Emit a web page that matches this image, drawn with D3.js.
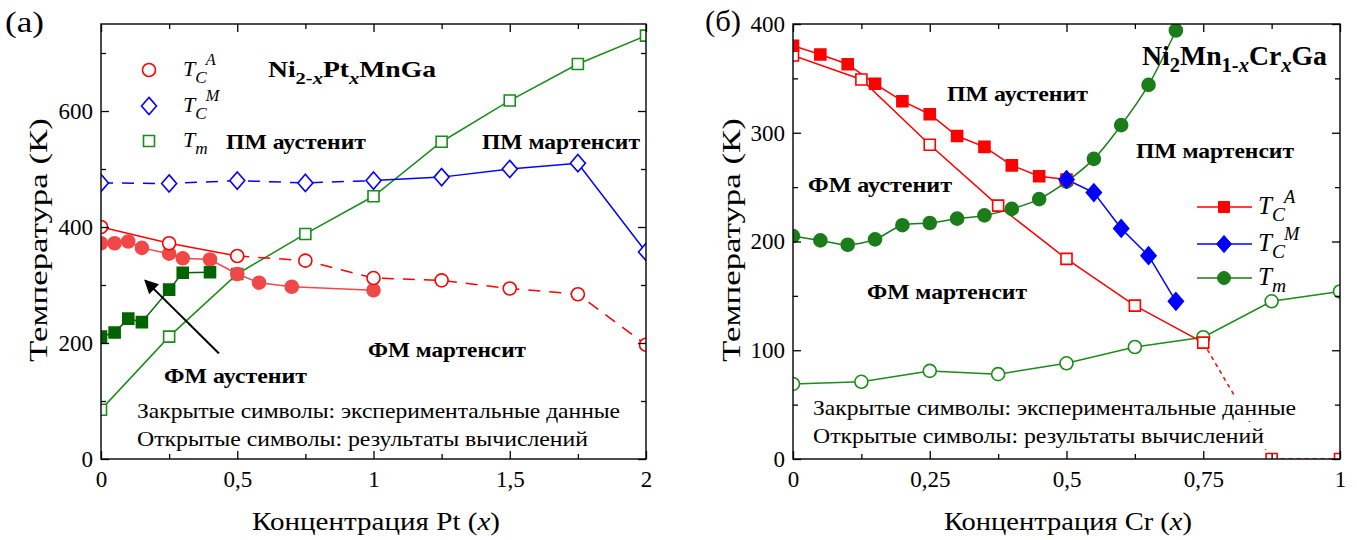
<!DOCTYPE html>
<html>
<head>
<meta charset="utf-8">
<script src="https://cdn.jsdelivr.net/npm/d3@7"></script>
<style>
  body { margin: 0; background: #fff; }
  text { font-family: "Liberation Serif", "Times New Roman", serif; fill: #000; }
</style>
</head>
<body>
<div id="chart"></div>
<script>
// ---- panel (a): Ni2-xPtxMnGa ----
const ptCalcX   = [0, 0.25, 0.5, 0.75, 1, 1.25, 1.5, 1.75, 2];
const ptTcaCalc = [400, 372, 350, 342, 312, 308, 294, 284, 197];
const ptTcmCalc = [476, 475, 480, 476, 480, 486, 500, 510, 357];
const ptTmCalc  = [85, 211, 319, 388, 453, 547, 618, 681, 730];
const ptTcaExpX = [0, 0.05, 0.1, 0.15, 0.25, 0.3, 0.4, 0.5, 0.58, 0.7, 1];
const ptTcaExp  = [372, 372, 375, 364, 354, 346, 344, 319, 304, 297, 291];
const ptTmExpX  = [0, 0.05, 0.1, 0.15, 0.25, 0.3, 0.4];
const ptTmExp   = [211, 218, 242, 236, 292, 321, 322];
const ptXTicks  = [0, 0.5, 1, 1.5, 2];
const ptXMinor  = [0.25, 0.75, 1.25, 1.75];
const ptYTicks  = [0, 200, 400, 600];
const ptYMinor  = [100, 300, 500, 700];

// ---- panel (б): Ni2Mn1-xCrxGa ----
const crCalcX   = [0, 0.125, 0.25, 0.375, 0.5, 0.625, 0.75, 0.875, 1];
const crTcaCalc = [371, 349, 289, 233, 184, 141, 107, 0, 0];
const crTmCalc  = [69, 71, 81, 78, 88, 103, 112, 145, 154];
const crTcaExpX = [0, 0.05, 0.1, 0.15, 0.2, 0.25, 0.3, 0.35, 0.4, 0.45, 0.5];
const crTcaExp  = [380, 372, 363, 345, 329, 317, 297, 287, 270, 260, 257];
const crTcmExpX = [0.5, 0.55, 0.6, 0.65, 0.7];
const crTcmExp  = [257, 245, 212, 187, 145];
const crTmExpX  = [0, 0.05, 0.1, 0.15, 0.2, 0.25, 0.3, 0.35, 0.4, 0.45, 0.5, 0.55, 0.6, 0.65, 0.7];
const crTmExp   = [205, 201, 197, 202, 215, 217, 221, 224, 230, 239, 255, 276, 307, 344, 394];
const crXTicks  = [0, 0.25, 0.5, 0.75, 1];
const crXMinor  = [0.125, 0.375, 0.625, 0.875];
const crYTicks  = [0, 100, 200, 300, 400];
const crYMinor  = [50, 150, 250, 350];

const notes = ["Закрытые символы: экспериментальные данные", "Открытые символы: результаты вычислений"];

const RED = "#ff0000", RED_EXP = "#f04848", BLUE = "#0000ff";
const GREEN = "#1a8c1a", GREEN_DK = "#006400", GREEN_EXP = "#1a7d1a";

const svg = d3.select("#chart").append("svg")
    .attr("width", 1357).attr("height", 540);

const fmt = d => String(d).replace(".", ",");
const pairs = (xs, ys) => xs.map((d, i) => [d, ys[i]]);

function shapePath(shape, s) {
    if (shape === "circle") return d3.symbol(d3.symbolCircle, Math.PI * s * s)();
    if (shape === "square") return `M${-s},${-s}H${s}V${s}H${-s}Z`;
    return `M0,${-s * 1.15}L${s},0L0,${s * 1.15}L${-s},0Z`;
}

function makePanel(cfg, id) {
    let p = {};
    p.x = d3.scaleLinear().domain(cfg.xDomain).range([cfg.left, cfg.right]);
    p.y = d3.scaleLinear().domain(cfg.yDomain).range([cfg.bottom, cfg.top]);
    p.g = svg.append("g");

    svg.append("clipPath").attr("id", id)
        .append("rect")
        .attr("x", cfg.left).attr("y", cfg.top)
        .attr("width", cfg.right - cfg.left).attr("height", cfg.bottom - cfg.top);
    p.plot = p.g.append("g").attr("clip-path", `url(#${id})`);

    // inward ticks on all four sides
    const axes = [
        [d3.axisBottom(p.x).tickValues(cfg.xTicks).tickSize(-8).tickPadding(12).tickFormat(fmt), `translate(0,${cfg.bottom})`],
        [d3.axisBottom(p.x).tickValues(cfg.xMinor).tickSize(-5).tickFormat(""), `translate(0,${cfg.bottom})`],
        [d3.axisTop(p.x).tickValues(cfg.xTicks).tickSize(-8).tickFormat(""), `translate(0,${cfg.top})`],
        [d3.axisTop(p.x).tickValues(cfg.xMinor).tickSize(-5).tickFormat(""), `translate(0,${cfg.top})`],
        [d3.axisLeft(p.y).tickValues(cfg.yTicks).tickSize(-8).tickPadding(8), `translate(${cfg.left},0)`],
        [d3.axisLeft(p.y).tickValues(cfg.yMinor).tickSize(-5).tickFormat(""), `translate(${cfg.left},0)`],
        [d3.axisRight(p.y).tickValues(cfg.yTicks).tickSize(-8).tickFormat(""), `translate(${cfg.right},0)`],
        [d3.axisRight(p.y).tickValues(cfg.yMinor).tickSize(-5).tickFormat(""), `translate(${cfg.right},0)`]
    ];
    axes.forEach(([ax, tr]) => {
        const a = p.g.append("g").attr("transform", tr).call(ax);
        a.select(".domain").remove();
        a.attr("font-family", null).attr("font-size", 23);
        a.selectAll("line").attr("stroke-width", 1.3);
    });

    p.g.append("rect")
        .attr("x", cfg.left).attr("y", cfg.top)
        .attr("width", cfg.right - cfg.left).attr("height", cfg.bottom - cfg.top)
        .attr("fill", "none").attr("stroke", "#000").attr("stroke-width", 1.4);

    p.line = function (xs, ys, color, dash, curve) {
        const gen = d3.line().x(d => p.x(d[0])).y(d => p.y(d[1])).curve(curve || d3.curveLinear);
        p.plot.append("path").datum(pairs(xs, ys))
            .attr("d", gen).attr("fill", "none")
            .attr("stroke", color).attr("stroke-width", 1.5)
            .attr("stroke-dasharray", dash || null);
    };
    p.marks = function (xs, ys, shape, color, filled, s) {
        p.plot.selectAll(null).data(pairs(xs, ys)).join("path")
            .attr("d", shapePath(shape, s))
            .attr("transform", d => `translate(${p.x(d[0])},${p.y(d[1])})`)
            .attr("fill", filled ? color : "#fff")
            .attr("stroke", color).attr("stroke-width", 1.6);
    };
    return p;
}

function text(x, y, str, size, opts = {}) {
    const t = svg.append("text").attr("x", x).attr("y", y)
        .attr("font-size", size).text(str);
    if (opts.bold) t.attr("font-weight", "bold");
    if (opts.anchor) t.attr("text-anchor", opts.anchor);
    if (opts.len) t.attr("textLength", opts.len).attr("lengthAdjust", "spacingAndGlyphs");
    if (opts.rotate) t.attr("transform", `rotate(-90,${x},${y})`);
    return t;
}

function noteBlock(x, y0, lens, bg) {
    notes.forEach((s, i) => {
        const t = text(x, y0 + i * 28, s, 21, {len: lens[i]});
        if (bg) {
            const b = t.node().getBBox();
            svg.insert("rect", () => t.node())
                .attr("x", b.x - 3).attr("y", b.y - 1)
                .attr("width", b.width + 6).attr("height", b.height + 2)
                .attr("fill", "#fff");
        }
    });
}

function formula(x, y, size, len, parts) {
    const t = svg.append("text").attr("x", x).attr("y", y)
        .attr("font-size", size).attr("font-weight", "bold")
        .attr("textLength", len).attr("lengthAdjust", "spacingAndGlyphs");
    let shift = 0;
    parts.forEach(([s, sub, it]) => {
        const d = (sub ? 7 : 0) - shift;
        shift = sub ? 7 : 0;
        t.append("tspan").attr("dy", d)
            .attr("font-size", sub ? size * 0.74 : size)
            .attr("font-style", it ? "italic" : null)
            .text(s);
    });
}

function tLabel(x, y, size, sub, sup) {
    const t = svg.append("text").attr("x", x).attr("y", y)
        .attr("font-size", size).attr("font-style", "italic");
    t.append("tspan").text("T");
    t.append("tspan").attr("font-size", size * 0.78).attr("dy", 7).text(sub);
    if (sup) t.append("tspan").attr("font-size", size * 0.74).attr("dx", -1).attr("dy", -18).text(sup);
}

function axisTitle(x, y, str) {
    const t = svg.append("text").attr("x", x).attr("y", y)
        .attr("font-size", 26).attr("text-anchor", "middle")
        .attr("textLength", 248).attr("lengthAdjust", "spacingAndGlyphs");
    t.append("tspan").text(str + " (");
    t.append("tspan").attr("font-style", "italic").text("x");
    t.append("tspan").text(")");
}

// ================= panel (a) =================
const A = makePanel({left: 101, right: 646, top: 24, bottom: 459,
    xDomain: [0, 2], yDomain: [0, 750],
    xTicks: ptXTicks, xMinor: ptXMinor, yTicks: ptYTicks, yMinor: ptYMinor}, "clipA");

A.line(ptCalcX, ptTmCalc, GREEN);
A.line(ptCalcX.slice(0, 5), ptTcmCalc.slice(0, 5), BLUE, "12,9");
A.line(ptCalcX.slice(4), ptTcmCalc.slice(4), BLUE);
A.line(ptCalcX.slice(0, 3), ptTcaCalc.slice(0, 3), RED);
A.line(ptCalcX.slice(2), ptTcaCalc.slice(2), RED, "12,9");
A.line(ptTcaExpX, ptTcaExp, RED_EXP);
A.line(ptTmExpX, ptTmExp, GREEN_DK);

A.marks(ptCalcX, ptTmCalc, "square", GREEN, false, 5.5);
A.marks(ptCalcX, ptTcmCalc, "diamond", BLUE, false, 7.5);
A.marks(ptTcaExpX, ptTcaExp, "circle", RED_EXP, true, 6.5);
A.marks(ptCalcX, ptTcaCalc, "circle", RED, false, 6.5);
A.marks(ptTmExpX, ptTmExp, "square", GREEN_DK, true, 5.5);

// arrow pointing to the FM austenite region
svg.append("defs").append("marker")
    .attr("id", "head").attr("viewBox", "0 0 10 10")
    .attr("refX", 9).attr("refY", 5)
    .attr("markerWidth", 7).attr("markerHeight", 7)
    .attr("orient", "auto")
    .append("path").attr("d", "M0,0L10,5L0,10Z").attr("fill", "#000");
A.g.append("line")
    .attr("x1", A.x(0.433)).attr("y1", A.y(182))
    .attr("x2", A.x(0.162)).attr("y2", A.y(308))
    .attr("stroke", "#000").attr("stroke-width", 2)
    .attr("marker-end", "url(#head)");

// legend (a): symbols only
[[70, "circle", RED, 6.5], [106, "diamond", BLUE, 7.5], [141, "square", GREEN, 5.5]]
    .forEach(([yy, sh, c, s]) => {
        svg.append("path").attr("d", shapePath(sh, s)).attr("transform", `translate(149,${yy})`)
            .attr("fill", "#fff").attr("stroke", c).attr("stroke-width", 1.6);
    });
tLabel(183, 76, 22, "C", "A");
tLabel(183, 112, 22, "C", "M");
tLabel(183, 147, 22, "m");

formula(268, 77, 24, 168, [["Ni"], ["2-", 1], ["x", 1, 1], ["Pt"], ["x", 1, 1], ["MnGa"]]);
text(226, 149, "ПМ аустенит", 22, {bold: true, len: 140});
text(482, 149, "ПМ мартенсит", 22, {bold: true, len: 158});
text(368, 357, "ФМ мартенсит", 22, {bold: true, len: 158});
text(164, 383, "ФМ аустенит", 22, {bold: true, len: 143});
noteBlock(137, 418, [483, 451], false);

text(5, 32, "(a)", 29, {len: 39});
text(47, 240, "Температура (К)", 26, {anchor: "middle", rotate: true, len: 244});
axisTitle(376, 530, "Концентрация Pt");

// ================= panel (б) =================
const B = makePanel({left: 793, right: 1340, top: 24, bottom: 459,
    xDomain: [0, 1], yDomain: [0, 400],
    xTicks: crXTicks, xMinor: crXMinor, yTicks: crYTicks, yMinor: crYMinor}, "clipB");

B.line(crCalcX, crTmCalc, GREEN);
B.line(crCalcX.slice(0, 7), crTcaCalc.slice(0, 7), RED);
B.line(crCalcX.slice(6), crTcaCalc.slice(6), RED, "4,4");
B.line(crTcaExpX, crTcaExp, RED);
B.line(crTmExpX, crTmExp, GREEN_EXP, null, d3.curveCatmullRom);
B.line(crTcmExpX, crTcmExp, BLUE);

B.marks(crCalcX, crTmCalc, "circle", GREEN, false, 6.5);
B.marks(crCalcX, crTcaCalc, "square", RED, false, 5.5);
B.marks(crTmExpX, crTmExp, "circle", GREEN_EXP, true, 6.5);
B.marks(crTcaExpX, crTcaExp, "square", RED, true, 5.5);
B.marks(crTcmExpX, crTcmExp, "diamond", BLUE, true, 7.5);

// legend (б): line + filled symbol
[[207, RED, "square", 5.5, "C", "A"], [244, BLUE, "diamond", 7.5, "C", "M"], [278, GREEN_EXP, "circle", 6.5, "m"]]
    .forEach(([yy, c, sh, s, sub, sup]) => {
        svg.append("line").attr("x1", 1197).attr("x2", 1252).attr("y1", yy).attr("y2", yy)
            .attr("stroke", c).attr("stroke-width", 1.5);
        svg.append("path").attr("d", shapePath(sh, s))
            .attr("transform", `translate(1224,${yy})`).attr("fill", c).attr("stroke", c);
        tLabel(1258, yy + 7, 25, sub, sup);
    });

formula(1142, 65, 27, 185, [["Ni"], ["2", 1], ["Mn"], ["1-", 1], ["x", 1, 1], ["Cr"], ["x", 1, 1], ["Ga"]]);
text(947, 101, "ПМ аустенит", 22, {bold: true, len: 141});
text(1136, 158, "ПМ мартенсит", 22, {bold: true, len: 158});
text(808, 192, "ФМ аустенит", 22, {bold: true, len: 144});
text(867, 299, "ФМ мартенсит", 22, {bold: true, len: 160});
noteBlock(813, 415, [483, 451], true);

text(705, 31, "(б)", 29, {len: 36});
text(740, 240, "Температура (К)", 26, {anchor: "middle", rotate: true, len: 244});
axisTitle(1068, 530, "Концентрация Cr");
</script>
</body>
</html>
